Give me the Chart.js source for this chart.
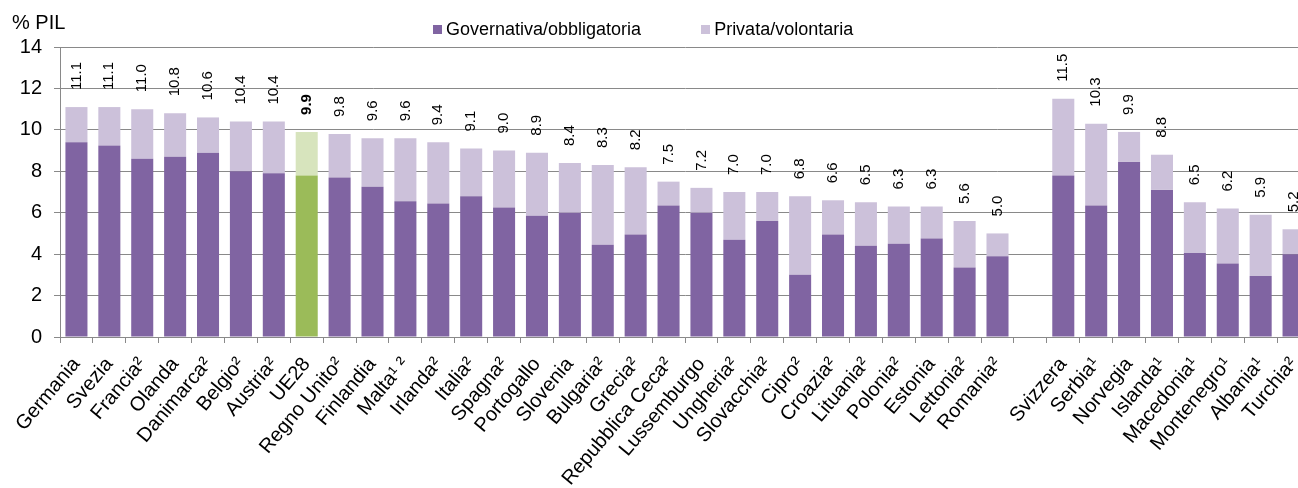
<!DOCTYPE html>
<html>
<head>
<meta charset="utf-8">
<script src="https://cdn.jsdelivr.net/npm/chart.js@4/dist/chart.umd.min.js"></script>
<style>
  html, body { margin: 0; padding: 0; overflow: hidden; background: #fff; }
  #wrap { position: relative; width: 1298px; height: 488px; overflow: hidden; }
  #c { position: absolute; left: 0; top: 0; }
  #unit { position: absolute; left: 12px; top: 10px; font: 20px "Liberation Sans", Arial, sans-serif; color: #000; line-height: 24px; }
  #legend { position: absolute; top: 18px; left: 433px; display: flex; font: 18px "Liberation Sans", Arial, sans-serif; line-height: 22px; color: #000; }
  .item { display: flex; align-items: center; margin-right: 60px; }
  .box { width: 9px; height: 9px; margin-right: 4px; }
</style>
</head>
<body>
<div id="wrap">
  <canvas id="c" width="1310" height="488"></canvas>
  <div id="unit">% PIL</div>
  <div id="legend"></div>
</div>
<script>
// categories (empty slot separates EU countries from the others)
const countries = [
  'Germania', 'Svezia', 'Francia²', 'Olanda', 'Danimarca²', 'Belgio²', 'Austria²', 'UE28',
  'Regno Unito²', 'Finlandia', 'Malta¹ ²', 'Irlanda²', 'Italia²', 'Spagna²', 'Portogallo',
  'Slovenia', 'Bulgaria²', 'Grecia²', 'Repubblica Ceca²', 'Lussemburgo', 'Ungheria²',
  'Slovacchia²', 'Cipro²', 'Croazia²', 'Lituania²', 'Polonia²', 'Estonia', 'Lettonia²',
  'Romania²', '', 'Svizzera', 'Serbia¹', 'Norvegia', 'Islanda¹', 'Macedonia¹',
  'Montenegro¹', 'Albania¹', 'Turchia²'
];
const seriesNames = ['Governativa/obbligatoria', 'Privata/volontaria'];

const govValues = [
  9.4, 9.25, 8.6, 8.7, 8.9, 8.0, 7.9, 7.8,
  7.7, 7.25, 6.55, 6.45, 6.8, 6.25, 5.85,
  6.0, 4.45, 4.95, 6.35, 6.0, 4.7,
  5.6, 3.0, 4.95, 4.4, 4.5, 4.75, 3.35,
  3.9, null, 7.8, 6.35, 8.45, 7.1, 4.05,
  3.55, 2.95, 4.0
];
const privValues = [
  1.7, 1.85, 2.4, 2.1, 1.7, 2.4, 2.5, 2.1,
  2.1, 2.35, 3.05, 2.95, 2.3, 2.75, 3.05,
  2.4, 3.85, 3.25, 1.15, 1.2, 2.3,
  1.4, 3.8, 1.65, 2.1, 1.8, 1.55, 2.25,
  1.1, null, 3.7, 3.95, 1.45, 1.7, 2.45,
  2.65, 2.95, 1.2
];
const totalLabels = [
  '11.1', '11.1', '11.0', '10.8', '10.6', '10.4', '10.4', '9.9',
  '9.8', '9.6', '9.6', '9.4', '9.1', '9.0', '8.9',
  '8.4', '8.3', '8.2', '7.5', '7.2', '7.0',
  '7.0', '6.8', '6.6', '6.5', '6.3', '6.3', '5.6',
  '5.0', '', '11.5', '10.3', '9.9', '8.8', '6.5',
  '6.2', '5.9', '5.2'
];
const yTicks = { min: 0, max: 14, step: 2 };

const highlight = 'UE28';
const colors = {
  gov: '#8064A2', priv: '#CCC1DA',
  govHi: '#9BBB59', privHi: '#D7E4BD',
  grid: '#898989'
};
const fontFamily = '"Liberation Sans", Arial, sans-serif';

// totals written vertically above each stacked bar
const totalsPlugin = {
  id: 'totals',
  afterDatasetsDraw(chart) {
    const { ctx } = chart;
    const top = chart.getDatasetMeta(1);
    ctx.save();
    ctx.fillStyle = '#000';
    ctx.textAlign = 'left';
    ctx.textBaseline = 'middle';
    totalLabels.forEach((t, i) => {
      if (!t) return;
      const bar = top.data[i];
      ctx.save();
      ctx.translate(bar.x, bar.y - 17);
      ctx.rotate(-Math.PI / 2);
      ctx.font = (countries[i] === highlight ? 'bold ' : '') + '15px ' + fontFamily;
      ctx.fillText(t, 0, 0);
      ctx.restore();
    });
    ctx.restore();
  }
};

const govColors = countries.map(c => c === highlight ? colors.govHi : colors.gov);
const privColors = countries.map(c => c === highlight ? colors.privHi : colors.priv);

new Chart(document.getElementById('c'), {
  type: 'bar',
  data: {
    labels: countries,
    datasets: [
      { label: seriesNames[0], data: govValues, backgroundColor: govColors, barPercentage: 0.67, categoryPercentage: 1 },
      { label: seriesNames[1], data: privValues, backgroundColor: privColors, barPercentage: 0.67, categoryPercentage: 1 }
    ]
  },
  options: {
    responsive: false,
    animation: false,
    layout: { padding: { top: 47, left: 0, right: 0, bottom: 0 } },
    plugins: { legend: { display: false }, tooltip: { enabled: false } },
    scales: {
      x: {
        stacked: true,
        grid: { drawOnChartArea: false, tickLength: 6, color: colors.grid },
        border: { color: colors.grid },
        ticks: { autoSkip: false, maxRotation: 50, minRotation: 50, color: '#000', padding: 10, font: { size: 20, family: fontFamily } },
        // plot runs off the right edge in the original, so no room is kept for the last label
        afterFit: s => { s.height = 151; s.paddingRight = 0; }
      },
      y: {
        stacked: true,
        min: yTicks.min, max: yTicks.max,
        ticks: { stepSize: yTicks.step, color: '#000', padding: 12, font: { size: 20, family: fontFamily } },
        grid: { color: colors.grid, tickLength: 6 },
        border: { color: colors.grid },
        afterFit: s => { s.width = 60; }
      }
    }
  },
  plugins: [totalsPlugin]
});

// legend
const legend = document.getElementById('legend');
[[seriesNames[0], colors.gov], [seriesNames[1], colors.priv]].forEach(([name, col]) => {
  const item = document.createElement('div');
  item.className = 'item';
  const box = document.createElement('span');
  box.className = 'box';
  box.style.background = col;
  const txt = document.createElement('span');
  txt.textContent = name;
  item.appendChild(box);
  item.appendChild(txt);
  legend.appendChild(item);
});
</script>
</body>
</html>
